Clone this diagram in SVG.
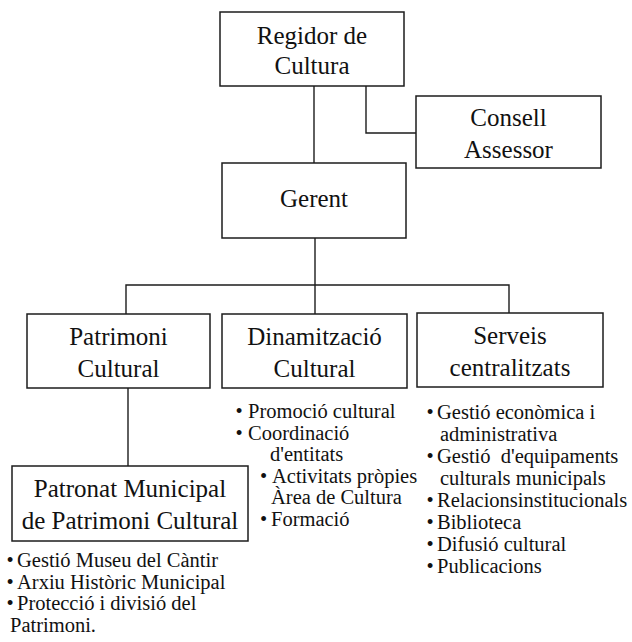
<svg xmlns="http://www.w3.org/2000/svg" width="632" height="642" viewBox="0 0 632 642" font-family="Liberation Serif">
<style>
.box{fill:#fff;stroke:#1c1c1c;stroke-width:1.5}
.lbl{font-size:25px;fill:#111;text-anchor:middle}
.it{font-size:20.5px;fill:#111}
.con{fill:none;stroke:#1c1c1c;stroke-width:1.4}
</style>
<rect width="632" height="642" fill="#fff"/>
<g id="connectors">
<path class="con" d="M314 86V163"/>
<path class="con" d="M366 86V133H416"/>
<path class="con" d="M315 238V285"/>
<path class="con" d="M126 314V285H509V313"/>
<path class="con" d="M315 285V314"/>
<path class="con" d="M128 388V466"/>
</g>
<g id="regidor">
<rect class="box" x="220" y="12" width="184" height="74"/>
<text class="lbl" font-family="Liberation Serif" x="312" y="44">Regidor de</text>
<text class="lbl" font-family="Liberation Serif" x="312" y="74">Cultura</text>
</g>
<g id="consell">
<rect class="box" x="416" y="96" width="185" height="72"/>
<text class="lbl" font-family="Liberation Serif" x="508.5" y="126">Consell</text>
<text class="lbl" font-family="Liberation Serif" x="508.5" y="158">Assessor</text>
</g>
<g id="gerent">
<rect class="box" x="222" y="163" width="184" height="75"/>
<text class="lbl" font-family="Liberation Serif" x="314" y="207">Gerent</text>
</g>
<g id="patrimoni">
<rect class="box" x="27" y="314" width="183" height="74"/>
<text class="lbl" font-family="Liberation Serif" x="118.5" y="345">Patrimoni</text>
<text class="lbl" font-family="Liberation Serif" x="118.5" y="377">Cultural</text>
</g>
<g id="dinamitzacio">
<rect class="box" x="222" y="314" width="185" height="74"/>
<text class="lbl" font-family="Liberation Serif" x="314.5" y="345">Dinamització</text>
<text class="lbl" font-family="Liberation Serif" x="314.5" y="377">Cultural</text>
<text class="it" font-family="Liberation Serif" x="235.5" y="418">•</text><text class="it" font-family="Liberation Serif" x="248" y="418">Promoció cultural</text>
<text class="it" font-family="Liberation Serif" x="235.5" y="439.6">•</text><text class="it" font-family="Liberation Serif" x="248" y="439.6">Coordinació</text>
<text class="it" font-family="Liberation Serif" x="270" y="461.2">d'entitats</text>
<text class="it" font-family="Liberation Serif" x="260" y="482.8">•</text><text class="it" font-family="Liberation Serif" x="272" y="482.8">Activitats pròpies</text>
<text class="it" font-family="Liberation Serif" x="271" y="504.4">Àrea de Cultura</text>
<text class="it" font-family="Liberation Serif" x="260" y="526">•</text><text class="it" font-family="Liberation Serif" x="271" y="526">Formació</text>
</g>
<g id="serveis">
<rect class="box" x="417" y="313" width="186" height="74"/>
<text class="lbl" font-family="Liberation Serif" x="510" y="344">Serveis</text>
<text class="lbl" font-family="Liberation Serif" x="510" y="376">centralitzats</text>
<text class="it" font-family="Liberation Serif" x="426.5" y="419">•</text><text class="it" font-family="Liberation Serif" x="437" y="419">Gestió econòmica i</text>
<text class="it" font-family="Liberation Serif" x="440" y="441">administrativa</text>
<text class="it" font-family="Liberation Serif" x="426.5" y="463">•</text><text class="it" font-family="Liberation Serif" x="437" y="463">Gestió&#160; d'equipaments</text>
<text class="it" font-family="Liberation Serif" x="440" y="485">culturals municipals</text>
<text class="it" font-family="Liberation Serif" x="426.5" y="507">•</text><text class="it" font-family="Liberation Serif" x="437" y="507">Relacionsinstitucionals</text>
<text class="it" font-family="Liberation Serif" x="426.5" y="529">•</text><text class="it" font-family="Liberation Serif" x="437" y="529">Biblioteca</text>
<text class="it" font-family="Liberation Serif" x="426.5" y="551">•</text><text class="it" font-family="Liberation Serif" x="437" y="551">Difusió cultural</text>
<text class="it" font-family="Liberation Serif" x="426.5" y="573">•</text><text class="it" font-family="Liberation Serif" x="437" y="573">Publicacions</text>
</g>
<g id="patronat">
<rect class="box" x="12" y="466" width="236" height="75"/>
<text class="lbl" font-family="Liberation Serif" x="130" y="497">Patronat Municipal</text>
<text class="lbl" font-family="Liberation Serif" x="130" y="529">de Patrimoni Cultural</text>
<text class="it" font-family="Liberation Serif" x="6.5" y="567">•</text><text class="it" font-family="Liberation Serif" x="17" y="567">Gestió Museu del Càntir</text>
<text class="it" font-family="Liberation Serif" x="6.5" y="588.5">•</text><text class="it" font-family="Liberation Serif" x="17" y="588.5">Arxiu Històric Municipal</text>
<text class="it" font-family="Liberation Serif" x="6.5" y="610">•</text><text class="it" font-family="Liberation Serif" x="17" y="610">Protecció i divisió del</text>
<text class="it" font-family="Liberation Serif" x="10" y="631.5">Patrimoni.</text>
</g>
</svg>
